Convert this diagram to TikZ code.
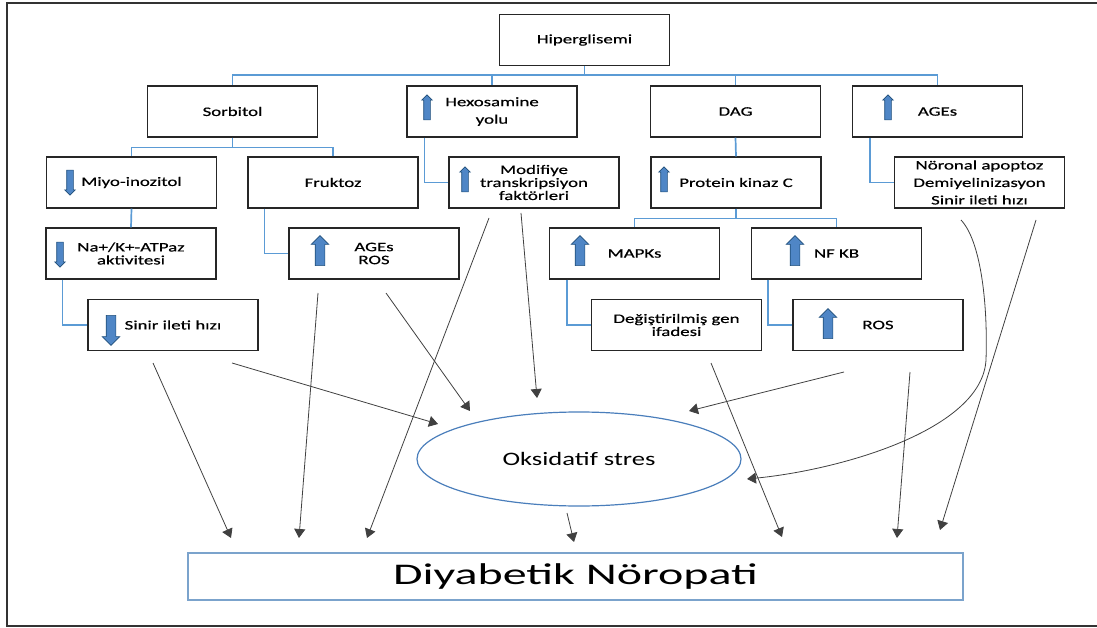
\documentclass[tikz,border=0pt]{standalone}
\usepackage{fontspec}
\setmainfont{Carlito}[FakeStretch=1.45,FakeBold=0.5]
\newfontfamily\buyukfont{Carlito}[FakeStretch=1.6]
\newfontfamily\elipsfont{Carlito}[FakeStretch=1.4]
\usetikzlibrary{shapes.arrows,shapes.geometric,arrows.meta}
\definecolor{baglanti}{HTML}{5B9BD5}
\definecolor{okdolgu}{HTML}{4F86C6}
\definecolor{okkenar}{HTML}{1F4E79}
\definecolor{elipsrenk}{HTML}{4A7EBB}
\definecolor{sonucrenk}{HTML}{7BA3CC}

\begin{document}
\begin{tikzpicture}[x=1pt,y=-1pt]

% stillerin tanımı
\tikzstyle{kutu}=[rectangle,draw=black!85,line width=1.3pt,minimum width=170pt,minimum height=51pt,inner sep=0pt,align=center,font=\fontsize{13}{13}\selectfont]
\tikzstyle{genis}=[font=\fontsize{13}{17.5}\selectfont]
\tikzstyle{bag}=[-,baglanti,line width=1.7pt]
\tikzstyle{ok}=[-{Triangle[width=11pt,length=9pt]},black!75,line width=0.8pt]
\tikzstyle{kucukok}=[single arrow,draw=okkenar,fill=okdolgu,line width=0.6pt,inner sep=0pt,inner ysep=3pt,single arrow head extend=2pt,minimum height=25pt,minimum width=10pt]
\tikzstyle{buyukok}=[single arrow,draw=okkenar,fill=okdolgu,line width=0.6pt,inner sep=0pt,inner ysep=4.5pt,single arrow head extend=4pt,minimum height=30pt,minimum width=17pt]

\useasboundingbox (0,0) rectangle (1097,628);

% çerçeve
\draw[black!80,line width=1.2pt] (1097,3) -- (7,3) -- (7,626) -- (1097,626);

% kutular
\node [kutu] (hiper) at (584.5,40) {Hiperglisemi};
\node [kutu] (sorb) at (232.5,111.5) {Sorbitol};
\node [kutu,genis] (hexo) at (492,111.5) {Hexosamine\\yolu};
\node [kutu] (dag) at (735.5,111.5) {DAG};
\node [kutu] (ages) at (937.5,111.5) {AGEs};
\node [kutu] (miyo) at (131.5,182.5) {Miyo-inozitol};
\node [kutu] (fruk) at (333,182.5) {Fruktoz};
\node [kutu] (modif) at (534,182.5) {Modifiye\\transkripsiyon\\faktörleri};
\node [kutu] (pkc) at (736,182.5) {Protein kinaz C};
\node [kutu,genis] (noron) at (979.5,182.5) {Nöronal apoptoz\\Demiyelinizasyon\\Sinir ileti hızı};
\node [kutu] (nak) at (131,253.5) {Na+/K+-ATPaz\\aktivitesi};
\node [kutu] (agesros) at (374,253.5) {AGEs\\ROS};
\node [kutu] (mapk) at (634.5,253.5) {MAPKs};
\node [kutu] (nfkb) at (836.5,253.5) {NF KB};
\node [kutu] (sinir) at (173,325) {Sinir ileti hızı};
\node [kutu] (degis) at (676.5,325) {Değiştirilmiş gen\\ifadesi};
\node [kutu] (ros) at (878,325) {ROS};
\node [ellipse,draw=elipsrenk,line width=1.2pt,minimum width=324pt,minimum height=94pt,font=\elipsfont\fontsize{19}{19}\selectfont] (oks) at (579,459) {Oksidatif stres};
\node [draw=sonucrenk,line width=1.2pt,minimum width=775pt,minimum height=47pt,font=\buyukfont\fontsize{30}{30}\selectfont] (dn) at (575.5,576.5) {Diyabetik Nöropati};

% mavi oklar
\node [kucukok,rotate=90] (ohexo) at (427,109) {};
\node [kucukok,rotate=90] (oages) at (888,109) {};
\node [kucukok,rotate=-90] (omiyo) at (70,181) {};
\node [kucukok,rotate=90] (omodif) at (465,181) {};
\node [kucukok,rotate=90] (opkc) at (664,181) {};
\node [kucukok,rotate=-90] (onak) at (60,253) {};
\node [buyukok,rotate=90] (oagesros) at (320,253) {};
\node [buyukok,rotate=90] (omapk) at (580,253) {};
\node [buyukok,rotate=90] (onfkb) at (795,253) {};
\node [buyukok,rotate=-90] (osinir) at (111,328) {};
\node [buyukok,rotate=90] (oros) at (828,326) {};

% bağlantılar
\draw[bag] (hiper.south) -- ++(0,9) -| (sorb.north);
\draw[bag] (hiper.south) -- ++(0,9) -| (hexo.north);
\draw[bag] (hiper.south) -- ++(0,9) -| (dag.north);
\draw[bag] (hiper.south) -- ++(0,9) -| (ages.north);
\draw[bag] (sorb.south) -- ++(0,10) -| (miyo.north);
\draw[bag] (sorb.south) -- ++(0,10) -| (fruk.north);
\draw[bag] (pkc.south) -- ++(0,10) -| (mapk.north);
\draw[bag] (pkc.south) -- ++(0,10) -| (nfkb.north);
\draw[bag] (dag.south) -- (pkc.north);
\draw[bag] (miyo.south) -- (nak.north);
\draw[bag] ([xshift=18pt]hexo.south west) |- (modif.west);
\draw[bag] ([xshift=18pt]ages.south west) |- (noron.west);
\draw[bag] ([xshift=17pt]fruk.south west) |- (agesros.west);
\draw[bag] ([xshift=17pt]nak.south west) |- (sinir.west);
\draw[bag] ([xshift=18pt]mapk.south west) |- (degis.west);
\draw[bag] ([xshift=17pt]nfkb.south west) |- (ros.west);

% okların uçları
\coordinate (s1) at (153,363);  \coordinate (t1) at (231,538);
\coordinate (s2) at (318,293);  \coordinate (t2) at (299,538);
\coordinate (s3) at (489,218);  \coordinate (t3) at (367,538);
\coordinate (s4) at (232,363);  \coordinate (t4) at (438,424);
\coordinate (s5) at (386,293);  \coordinate (t5) at (470,411);
\coordinate (s6) at (521,213);  \coordinate (t6) at (537,398);
\coordinate (s7) at (844,372);  \coordinate (t7) at (689,411);
\coordinate (s8) at (711,363);  \coordinate (t8) at (782,537);
\coordinate (s9) at (910,372);  \coordinate (t9) at (897,538);
\coordinate (s10) at (961,220); \coordinate (t10) at (747,479);
\coordinate (s11) at (1036,220); \coordinate (t11) at (940,530);
\coordinate (s12) at (567,513); \coordinate (t12) at (574,542);

% oklar
\draw[ok] (s1) -- (t1);
\draw[ok] (s2) -- (t2);
\draw[ok] (s3) -- (t3);
\draw[ok] (s4) -- (t4);
\draw[ok] (s5) -- (t5);
\draw[ok] (s6) -- (t6);
\draw[ok] (s7) -- (t7);
\draw[ok] (s8) -- (t8);
\draw[ok] (s9) -- (t9);
\draw[ok] (s10) .. controls (980,240) and (988,300) .. (986,360) .. controls (982,430) and (840,470) .. (t10);
\draw[ok] (s11) -- (t11);
\draw[ok] (s12) -- (t12);

\end{tikzpicture}
\end{document}
